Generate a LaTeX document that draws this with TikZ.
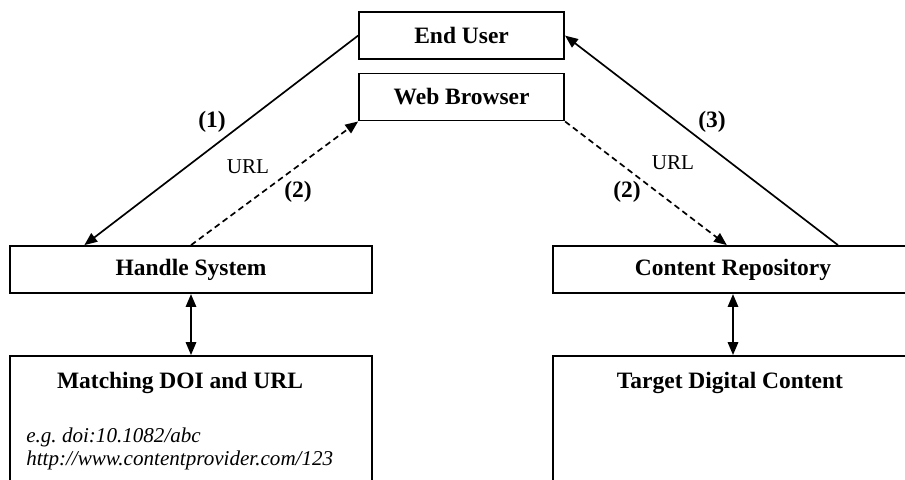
\documentclass[tikz,border=0pt]{standalone}
\usepackage{fontspec}
\setmainfont{Liberation Serif}
\usetikzlibrary{arrows.meta,calc,positioning}
\tikzset{
  box/.style={draw, line width=1.4pt, minimum height=1.175cm, inner sep=0pt, font=\fontsize{16.7}{20}\selectfont\bfseries},
  lbl/.style={font=\fontsize{16.7}{20}\selectfont\bfseries},
  url/.style={font=\fontsize{15}{18}\selectfont},
  ital/.style={inner sep=0pt, anchor=west, font=\fontsize{15}{18}\selectfont\itshape},
  tip/.style={-{Triangle[length=0.32cm,width=0.26cm]}, line width=1.2pt},
  dtip/.style={{Triangle[length=0.32cm,width=0.26cm]}-{Triangle[length=0.32cm,width=0.26cm]}, line width=1.2pt},
  dsh/.style={dash pattern=on 4.2pt off 2.8pt},
}
\begin{document}
\begin{tikzpicture}
    \useasboundingbox (0,0) rectangle (22.625,-11.975);
    \clip (0,0) rectangle (22.625,-11.975);

    %top boxes
    \node[box, minimum width=5.125cm] (EU) at (11.54,-0.89) {End User};
    \node[box, minimum width=5.125cm] (WB) at (11.54,-2.425) {Web Browser};

    %middle boxes
    \node[box, minimum width=9.05cm] (HS) at (4.775,-6.74) {Handle System};
    \node[box, minimum width=9cm] (CR) at (18.325,-6.74) {Content Repository};

    %bottom boxes
    \node[box, minimum width=9.05cm, minimum height=3.6cm] (MD) at (4.775,-10.7) {};
    \node[box, minimum width=9cm, minimum height=3.6cm] (TD) at (18.325,-10.7) {};
    \node[lbl] (MDt) at (4.5,-9.575) {Matching DOI and URL};
    \node[ital] (ex1) at (0.65,-10.925) {e.g.\ doi:10.1082/abc};
    \node[ital] (ex2) at (0.65,-11.5) {http://www.contentprovider.com/123};
    \node[lbl] (TDt) at (18.25,-9.575) {Target Digital Content};

    %connectors
    \path[draw,tip] (EU.west) -- ($(HS.north west)!0.207!(HS.north east)$);
    \path[draw,tip,dsh] (HS.north) -- (WB.south west);
    \path[draw,tip,dsh] (WB.south east) -- ($(CR.north west)!0.483!(CR.north east)$);
    \path[draw,tip] ($(CR.north west)!0.79!(CR.north east)$) -- (EU.east);
    \path[draw,dtip] (HS.south) -- (MD.north);
    \path[draw,dtip] (CR.south) -- (TD.north);

    %labels
    \node[lbl] (n1) at (5.3,-3.05) {(1)};
    \node[url] (u1) at (6.2,-4.175) {URL};
    \node[lbl] (n2) at (7.45,-4.8) {(2)};
    \node[lbl] (n3) at (17.8,-3.05) {(3)};
    \node[url] (u2) at (16.825,-4.075) {URL};
    \node[lbl] (n4) at (15.675,-4.8) {(2)};
\end{tikzpicture}
\end{document}
